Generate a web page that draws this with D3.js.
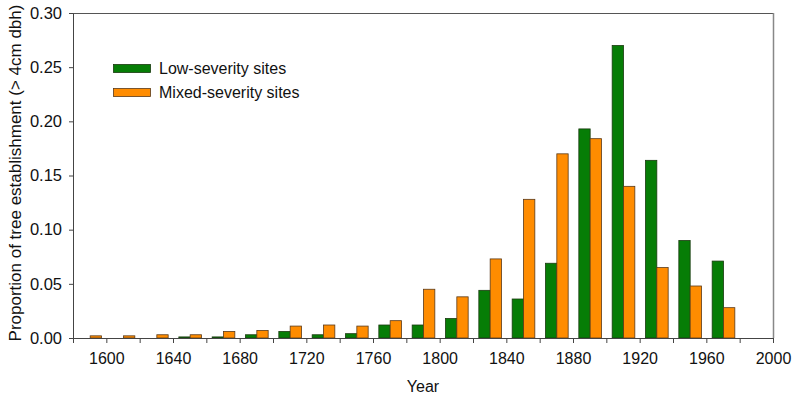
<!DOCTYPE html>
<html><head><meta charset="utf-8">
<script src="https://cdn.jsdelivr.net/npm/d3@7/dist/d3.min.js"></script>
<style>body{margin:0;background:#fff;} svg{display:block;font-family:"Liberation Sans",Arial,sans-serif;}</style>
</head><body>
<svg id="chart" width="797" height="400"></svg>
<script>
const binCenters = [1590,1610,1630,1650,1670,1690,1710,1730,1750,1770,1790,1810,1830,1850,1870,1890,1910,1930,1950,1970];
const lowSeverity = [0,0,0,0.001,0.001,0.003,0.006,0.003,0.004,0.012,0.012,0.018,0.044,0.036,0.069,0.193,0.270,0.164,0.090,0.071];
const mixedSeverity = [0.002,0.002,0.003,0.003,0.006,0.007,0.011,0.012,0.011,0.016,0.045,0.038,0.073,0.128,0.170,0.184,0.140,0.065,0.048,0.028];
const seriesNames = ["Low-severity sites","Mixed-severity sites"];
const xTicks = [1600,1640,1680,1720,1760,1800,1840,1880,1920,1960,2000];
const xMinorTicks = [1580,1620,1660,1700,1740,1780,1820,1860,1900,1940,1980];
const yTicks = [0,0.05,0.10,0.15,0.20,0.25,0.30];
const colors = ["#067d06","#ff8c00"];

const svg = d3.select("#chart");
const m = {l:73, r:773, t:13, b:338};
const x = d3.scaleLinear().domain([1580,2000]).range([m.l,m.r]);
const y = d3.scaleLinear().domain([0,0.30]).range([m.b,m.t]);
const barW = x(1586.8)-x(1580);

// frame
svg.append("line").attr("x1",m.l).attr("x2",m.r).attr("y1",m.t+0.5).attr("y2",m.t+0.5).attr("stroke","#555");
svg.append("line").attr("x1",m.r+0.5).attr("x2",m.r+0.5).attr("y1",m.t).attr("y2",m.b).attr("stroke","#888").attr("stroke-width",1.5);

// bars
const series = [lowSeverity, mixedSeverity];
series.forEach((vals,si)=>{
  svg.append("g").selectAll("rect").data(binCenters.map((c,i)=>({c,v:vals[i]})).filter(d=>d.v>0))
    .join("rect")
    .attr("x",d=>x(d.c)+(si-1)*barW+0.5)
    .attr("width",barW)
    .attr("y",d=>y(d.v))
    .attr("height",d=>y(0)-y(d.v))
    .attr("fill",colors[si])
    .attr("stroke",si===0?"#1a3a10":"#5a3a1a")
    .attr("stroke-width",0.8);
});

const fam = "'Liberation Sans',Arial,sans-serif";
// x axis
const xAxis = d3.axisBottom(x).tickValues(xTicks).tickFormat(d3.format("d")).tickSize(5).tickSizeOuter(0).tickPadding(10);
const gx = svg.append("g").attr("transform",`translate(0,${m.b})`).call(xAxis);
svg.append("g").attr("transform",`translate(0,${m.b})`).selectAll("line").data(xMinorTicks).join("line")
  .attr("x1",d=>x(d)+0.5).attr("x2",d=>x(d)+0.5).attr("y1",0).attr("y2",5).attr("stroke","#444");
gx.select(".domain").attr("stroke","#444");
gx.selectAll(".tick line").attr("stroke","#444");
gx.selectAll("text").attr("font-size","16px").attr("fill","#111").attr("font-family",fam);

// y axis
const yAxis = d3.axisLeft(y).tickValues(yTicks).tickFormat(d3.format(".2f")).tickSize(4).tickSizeOuter(0).tickPadding(7);
const gy = svg.append("g").attr("transform",`translate(${m.l},0)`).call(yAxis);
gy.select(".domain").attr("stroke","#444");
gy.selectAll(".tick line").attr("stroke","#444");
gy.selectAll("text").attr("font-size","16.5px").attr("fill","#111").attr("font-family",fam);

// titles
svg.append("text").attr("x",(m.l+m.r)/2).attr("y",392).attr("text-anchor","middle")
  .attr("font-size","16px").attr("fill","#111").text("Year");
svg.append("text").attr("transform",`translate(21,173) rotate(-90)`).attr("text-anchor","middle")
  .attr("font-size","17px").attr("fill","#111").text("Proportion of tree establishment (> 4cm dbh)");

// legend
const lg = svg.append("g");
seriesNames.forEach((n,i)=>{
  lg.append("rect").attr("x",113.5).attr("y",64.5+i*24).attr("width",37).attr("height",8)
    .attr("fill",colors[i]).attr("stroke",i===0?"#1a3a10":"#5a3a1a").attr("stroke-width",0.8);
  lg.append("text").attr("x",159).attr("y",74+i*24).attr("font-size","16px").attr("fill","#111").text(n);
});
</script>
</body></html>
